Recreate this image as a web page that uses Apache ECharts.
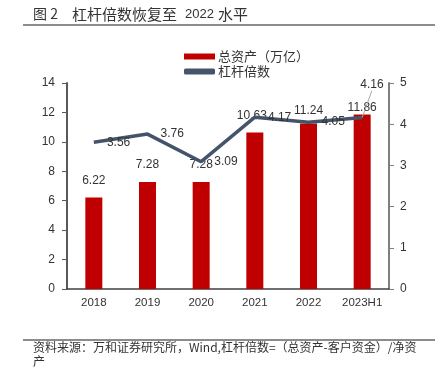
<!DOCTYPE html>
<html>
<head>
<meta charset="utf-8">
<script src="https://cdn.jsdelivr.net/npm/echarts@6/dist/echarts.min.js"></script>
<style>
html,body{margin:0;padding:0;background:#fff;}
#c{width:447px;height:370px;}
</style>
</head>
<body>
<div id="c"></div>
<script>
const categories = ['2018', '2019', '2020', '2021', '2022', '2023H1'];
const totalAssets = [6.22, 7.28, 7.28, 10.63, 11.24, 11.86];
const leverage = [3.56, 3.76, 3.09, 4.17, 4.05, 4.16];
const leftTicks = [0, 14, 2];   // min, max, interval
const rightTicks = [0, 5, 1];

const barName = '总资产（万亿）';
const lineName = '杠杆倍数';
const cjk = '"Noto Sans CJK SC", sans-serif';
const latin = '"Liberation Sans", Arial, sans-serif';

// per-label nudges (style only)
const barLabelNudgeX = [0, 0, 0, -3, 0, 0];
const barLabelNudgeY = [0, 0, 0, 0, 4, 10];

const chart = echarts.init(document.getElementById('c'), null, {renderer: 'canvas'});

const barData = totalAssets.map((v, i) => ({
  value: v,
  label: {offset: [barLabelNudgeX[i], barLabelNudgeY[i]]}
}));
const lastIdx = leverage.length - 1;
const lineData = leverage.map((v, i) => ({value: v, labelLine: {show: i === lastIdx}}));

chart.setOption({
  animation: false,
  textStyle: {fontFamily: latin},
  graphic: [
    {type: 'text', left: 33, top: 7, style: {text: '图 2', font: '14px ' + cjk, fill: '#333'}},
    {type: 'text', left: 72, top: 7, style: {text: '杠杆倍数恢复至', font: '15px ' + cjk, fill: '#333'}},
    {type: 'text', left: 185, top: 8, style: {text: '2022', font: '13px ' + latin, fill: '#333'}},
    {type: 'text', left: 218, top: 7, style: {text: '水平', font: '15px ' + cjk, fill: '#333'}},
    {type: 'rect', shape: {x: 23, y: 24, width: 412, height: 2}, style: {fill: '#8c8c8c'}},
    {type: 'rect', shape: {x: 23, y: 339, width: 412, height: 2}, style: {fill: '#8c8c8c'}},
    {type: 'text', left: 33, top: 341, style: {text: '资料来源：万和证券研究所，Wind,杠杆倍数=（总资产-客户资金）/净资', font: '12px ' + cjk, fill: '#333'}},
    {type: 'text', left: 33, top: 355, style: {text: '产', font: '12px ' + cjk, fill: '#333'}}
  ],
  legend: {
    orient: 'vertical',
    left: 179,
    top: 45,
    itemWidth: 31,
    itemHeight: 6,
    itemGap: 2,
    textStyle: {fontFamily: cjk, fontSize: 13, color: '#333', padding: [0, 0, 0, -2]},
    data: [
      {name: barName, icon: 'rect'},
      {name: lineName, icon: 'roundRect'}
    ]
  },
  grid: {left: 67, right: 58, top: 83, bottom: 81, containLabel: false},
  xAxis: {
    type: 'category',
    data: categories,
    axisLine: {lineStyle: {color: '#404040', width: 1.5}},
    axisTick: {show: false},
    axisLabel: {color: '#333', fontSize: 11.5, margin: 8, interval: 0, fontFamily: latin}
  },
  yAxis: [
    {
      type: 'value', min: leftTicks[0], max: leftTicks[1], interval: leftTicks[2],
      axisLine: {show: true, lineStyle: {color: '#595959', width: 2}},
      axisTick: {show: true, length: 5, lineStyle: {color: '#595959', width: 1}},
      splitLine: {show: false},
      axisLabel: {color: '#333', fontSize: 12, margin: 12, fontFamily: latin}
    },
    {
      type: 'value', position: 'right', min: rightTicks[0], max: rightTicks[1], interval: rightTicks[2],
      axisLine: {show: true, lineStyle: {color: '#7f7f7f', width: 2}},
      axisTick: {show: true, length: 5, lineStyle: {color: '#7f7f7f', width: 1}},
      splitLine: {show: false},
      axisLabel: {color: '#333', fontSize: 12, margin: 11, fontFamily: latin}
    }
  ],
  series: [
    {
      name: barName,
      type: 'bar',
      data: barData,
      barWidth: 17,
      itemStyle: {color: '#C00000'},
      label: {show: true, position: 'top', distance: 11, color: '#333', fontSize: 12, fontFamily: latin}
    },
    {
      name: lineName,
      type: 'line',
      yAxisIndex: 1,
      data: lineData,
      showSymbol: true,
      symbol: 'circle',
      symbolSize: 0.1,
      lineStyle: {color: '#44546A', width: 3.5},
      itemStyle: {color: '#44546A'},
      label: {show: true, position: 'right', distance: 13, color: '#333', fontSize: 12, fontFamily: latin},
      labelLine: {show: true, minTurnAngle: 0, lineStyle: {color: '#a6a6a6', width: 1}},
      labelLayout: function (p) {
        if (p.dataIndex === lastIdx) return {dx: -15, dy: -33, hideOverlap: false};
        return {hideOverlap: false};
      }
    }
  ]
});
</script>
</body>
</html>
